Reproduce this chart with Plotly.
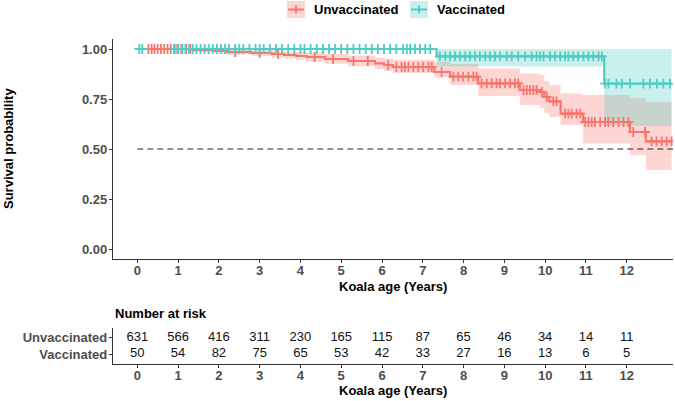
import numpy as np
import plotly.graph_objects as go

# ---------------- data ----------------
groups = ["Unvaccinated", "Vaccinated"]

# Kaplan-Meier steps (time in years, survival, 95% CI)
unvacc_time = [0, 1.35, 1.9, 2.2, 2.8, 3.3, 3.6, 3.9, 4.15, 4.6, 5.17, 5.83, 6.05, 6.27,
               7.28, 7.67, 8.36, 9.38, 9.87, 9.98, 10.1, 10.38, 10.93, 12.08, 12.47]
unvacc_surv = [1.0, 0.995, 0.99, 0.985, 0.98, 0.975, 0.97, 0.965, 0.96, 0.95, 0.94, 0.928, 0.92, 0.91,
               0.885, 0.862, 0.828, 0.795, 0.785, 0.76, 0.738, 0.677, 0.635, 0.585, 0.538]
unvacc_lower = [1.0, 0.985, 0.978, 0.972, 0.965, 0.958, 0.952, 0.945, 0.938, 0.926, 0.914, 0.9, 0.89, 0.88,
                0.858, 0.82, 0.765, 0.72, 0.705, 0.68, 0.66, 0.62, 0.528, 0.47, 0.395]
unvacc_upper = [1.0, 1.0, 1.0, 0.998, 0.995, 0.992, 0.988, 0.985, 0.982, 0.975, 0.968, 0.958, 0.952, 0.945,
                0.935, 0.925, 0.903, 0.878, 0.87, 0.84, 0.82, 0.778, 0.77, 0.755, 0.735]

vacc_time = [0, 7.34, 11.45]
vacc_surv = [1.0, 0.963, 0.827]
vacc_lower = [1.0, 0.912, 0.615]
vacc_upper = [1.0, 1.0, 1.0]

follow_up_end = 13.1

# censoring times
unvacc_censor = [0.27, 0.35, 0.42, 0.5, 0.58, 0.66, 0.74, 0.82, 0.9, 0.98, 1.08, 1.2, 1.3,
                 2.4, 3.0, 3.45, 4.35, 4.8, 5.3, 5.65, 6.15, 6.35,
                 6.48, 6.56, 6.65, 6.77, 6.89, 7.01, 7.14, 7.22, 7.46, 7.75, 7.87, 7.99, 8.12, 8.24,
                 8.32, 8.44, 8.57, 8.69, 8.81, 8.89, 9.02, 9.14, 9.26, 9.34, 9.47, 9.55, 9.63, 9.71,
                 9.79, 9.92, 10.04, 10.2, 10.28, 10.49, 10.57, 10.65, 10.77, 10.86, 10.98, 11.06,
                 11.14, 11.22, 11.35, 11.47, 11.55, 11.67, 11.8, 11.92, 12.04, 12.16, 12.45, 12.61,
                 12.73, 12.86, 12.98, 13.1]
vacc_censor = [0.05, 0.12, 0.92, 1.0, 1.1, 1.18, 1.27, 1.36, 1.45, 1.55, 1.65, 1.75, 1.85, 1.95,
               2.05, 2.15, 2.25, 2.4, 2.5, 2.6, 2.75, 2.9, 3.0, 3.1, 3.25, 3.4, 3.55, 3.7, 3.85,
               4.0, 4.1, 4.25, 4.4, 4.55, 4.7, 4.85, 5.0, 5.15, 5.3, 5.45, 5.6, 5.75, 5.9, 6.05,
               6.2, 6.35, 6.52, 6.61, 6.69, 6.81, 6.93, 7.06, 7.18, 7.42, 7.55, 7.67, 7.79, 7.91,
               8.04, 8.16, 8.28, 8.4, 8.53, 8.65, 8.77, 8.89, 9.06, 9.18, 9.34, 9.51, 9.67, 9.79,
               9.87, 9.96, 10.12, 10.24, 10.37, 10.49, 10.57, 10.69, 10.81, 10.94, 11.06, 11.18,
               11.31, 11.39, 11.47, 11.55, 11.75, 11.88, 12.08, 12.41, 12.57, 12.74, 12.9, 13.06]

median_level = 0.5

# number at risk table
risk_times = [0, 1, 2, 3, 4, 5, 6, 7, 8, 9, 10, 11, 12]
risk_unvacc = [631, 566, 416, 311, 230, 165, 115, 87, 65, 46, 34, 14, 11]
risk_vacc = [50, 54, 82, 75, 65, 53, 42, 33, 27, 16, 13, 6, 5]

y_ticks = [0, 0.25, 0.5, 0.75, 1.0]
x_ticks = list(range(0, 13))

# ---------------- style ----------------
RED = "#F8766D"
CYAN = "#4ECDC4"
RED_FILL = "rgba(248,118,109,0.3)"
CYAN_FILL = "rgba(78,205,196,0.3)"
FONT = "Liberation Sans, Arial, sans-serif"
AX = "#333333"
TICKTXT = "#4D4D4D"

W, H = 675, 401
L, R, T, B = 113, 2, 39, 37
PW, PH = W - L - R, H - T - B


def px(x):
    return (x - L) / PW


def py(y):
    return (H - B - y) / PH


X_RANGE = [-0.596, 13.135]


def step_value(times, vals, t):
    idx = np.searchsorted(np.asarray(times), np.asarray(t), side="right") - 1
    return np.asarray(vals)[idx]


def extend(times, vals):
    return list(times) + [follow_up_end], list(vals) + [vals[-1]]


fig = go.Figure()

# confidence bands
for times, lo, up, fill in [(unvacc_time, unvacc_lower, unvacc_upper, RED_FILL),
                            (vacc_time, vacc_lower, vacc_upper, CYAN_FILL)]:
    xs, ys = extend(times, lo)
    fig.add_trace(go.Scatter(x=xs, y=ys, mode="lines", line=dict(width=0, shape="hv"),
                             showlegend=False, hoverinfo="skip"))
    xs, ys = extend(times, up)
    fig.add_trace(go.Scatter(x=xs, y=ys, mode="lines", line=dict(width=0, shape="hv"),
                             fill="tonexty", fillcolor=fill, showlegend=False, hoverinfo="skip"))

# survival steps
for name, times, surv, col in [(groups[0], unvacc_time, unvacc_surv, RED),
                               (groups[1], vacc_time, vacc_surv, CYAN)]:
    xs, ys = extend(times, surv)
    fig.add_trace(go.Scatter(x=xs, y=ys, mode="lines", name=name,
                             line=dict(color=col, width=2.2, shape="hv"), showlegend=False))

# median reference line
fig.add_trace(go.Scatter(x=[0, X_RANGE[1]], y=[median_level, median_level], mode="lines",
                         line=dict(color="#222222", width=1.1, dash="6px,4px"),
                         showlegend=False, hoverinfo="skip"))

# censor marks
for name, times, surv, cens, col in [(groups[0], unvacc_time, unvacc_surv, unvacc_censor, RED),
                                     (groups[1], vacc_time, vacc_surv, vacc_censor, CYAN)]:
    fig.add_trace(go.Scatter(x=cens, y=step_value(times, surv, cens), mode="markers",
                             marker=dict(symbol="cross-thin", size=7,
                                         line=dict(color=col, width=1.8)),
                             showlegend=False, name=name))

# risk table
for yv, counts in [(2, risk_unvacc), (1, risk_vacc)]:
    fig.add_trace(go.Scatter(x=risk_times, y=[yv] * len(risk_times), mode="text",
                             text=[str(c) for c in counts],
                             textfont=dict(family=FONT, size=13, color="#111111"),
                             xaxis="x2", yaxis="y2", showlegend=False, hoverinfo="skip"))

axis_common = dict(showline=True, linecolor=AX, linewidth=1.4, ticks="outside", ticklen=3,
                   tickcolor=AX, tickwidth=1.2, showgrid=False, zeroline=False,
                   tickfont=dict(family=FONT, size=13, color=TICKTXT, weight="bold"))

fig.update_layout(
    width=W, height=H,
    margin=dict(l=L, r=R, t=T, b=B),
    paper_bgcolor="white", plot_bgcolor="white",
    showlegend=False,
    xaxis=dict(domain=[0, 1], range=X_RANGE, anchor="y", tickvals=x_ticks,
               ticklabelstandoff=-4, **axis_common),
    yaxis=dict(domain=[py(259), 1], range=[-0.05, 1.05], anchor="x", tickvals=y_ticks,
               tickformat=".2f", ticklabelstandoff=-1, **axis_common),
    xaxis2=dict(domain=[0, 1], range=X_RANGE, anchor="y2", tickvals=x_ticks,
                ticklabelstandoff=-4, **axis_common),
    yaxis2=dict(domain=[0, py(328)], range=[0.4, 2.6], anchor="x2", tickvals=[1, 2],
                ticktext=[groups[1], groups[0]], ticklabelstandoff=-1, **axis_common),
)

title_font = dict(family=FONT, size=13, color="#000000", weight="bold")
annotations = [
    dict(text="Survival probability", x=px(8), y=py(149), textangle=-90, font=title_font),
    dict(text="Koala age (Years)", x=px(393), y=py(286), font=title_font),
    dict(text="Number at risk", x=px(113), y=py(313), xanchor="left", font=title_font),
    dict(text="Koala age (Years)", x=px(393), y=py(390), font=title_font),
    dict(text=groups[0], x=px(312), y=py(9.5), xanchor="left", font=title_font),
    dict(text=groups[1], x=px(435), y=py(9.5), xanchor="left", font=title_font),
]
for a in annotations:
    a.setdefault("xanchor", "center")
    fig.add_annotation(xref="paper", yref="paper", yanchor="middle", showarrow=False, **a)

# manual legend keys
for x0, col, fill in [(287, RED, RED_FILL), (410, CYAN, CYAN_FILL)]:
    fig.add_shape(type="rect", xref="paper", yref="paper", x0=px(x0), x1=px(x0 + 18),
                  y0=py(18), y1=py(1), fillcolor=fill, line=dict(width=0))
    fig.add_shape(type="line", xref="paper", yref="paper", x0=px(x0 + 1), x1=px(x0 + 17),
                  y0=py(9.5), y1=py(9.5), line=dict(color=col, width=2))
    fig.add_shape(type="line", xref="paper", yref="paper", x0=px(x0 + 9), x1=px(x0 + 9),
                  y0=py(5.5), y1=py(13.5), line=dict(color=col, width=2))

fig.write_html("out.html", config={"displayModeBar": False},
               post_script="document.body.style.margin='0px';")
